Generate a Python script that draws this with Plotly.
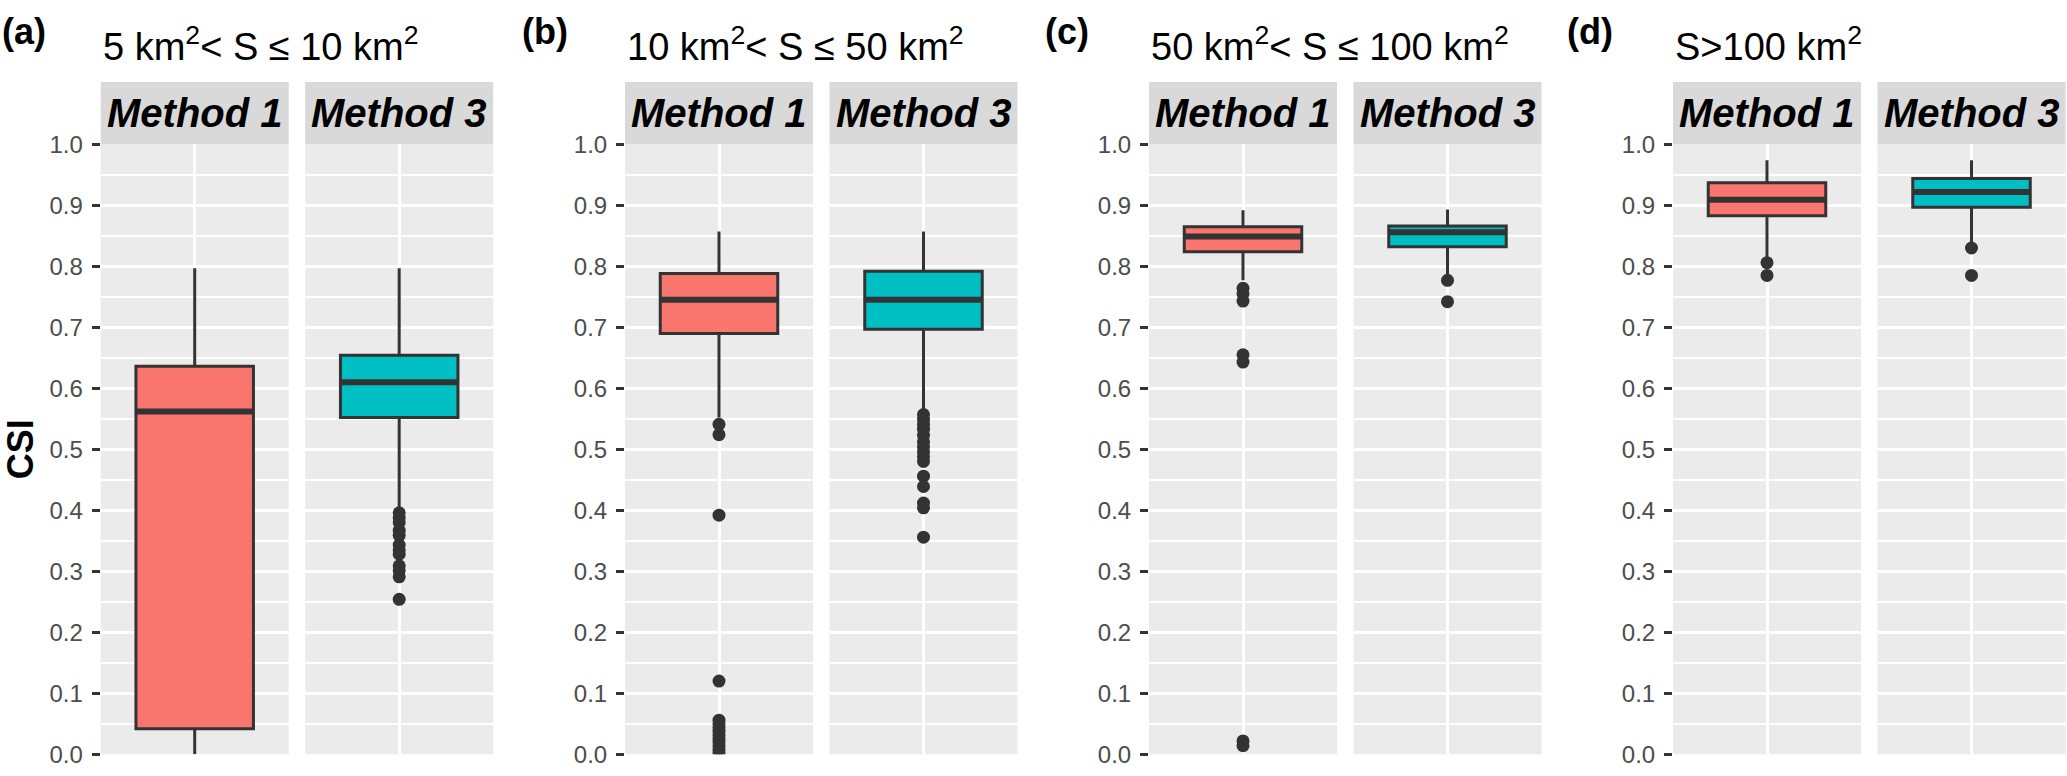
import plotly.graph_objects as go

# -----------------------------
# Data
# -----------------------------
panel_labels = ['(a)', '(b)', '(c)', '(d)']
size_classes = [
    '5 km<sup>2</sup>< S ≤ 10 km<sup>2</sup>',
    '10 km<sup>2</sup>< S ≤ 50 km<sup>2</sup>',
    '50 km<sup>2</sup>< S ≤ 100 km<sup>2</sup>',
    'S>100 km<sup>2</sup>',
]
methods = ['Method 1', 'Method 3']

# Method 1 box statistics, one value per size class
m1_low = [0.000, 0.552, 0.777, 0.815]
m1_q1 = [0.042, 0.690, 0.824, 0.883]
m1_median = [0.562, 0.745, 0.849, 0.909]
m1_q3 = [0.636, 0.788, 0.865, 0.937]
m1_high = [0.797, 0.857, 0.892, 0.974]
m1_outliers = [
    [],
    [0.541, 0.524, 0.392, 0.120, 0.056, 0.050, 0.044, 0.038, 0.032,
     0.026, 0.020, 0.014, 0.008, 0.003],
    [0.764, 0.755, 0.743, 0.655, 0.643, 0.022, 0.014],
    [0.806, 0.785],
]

# Method 3 box statistics
m3_low = [0.405, 0.565, 0.786, 0.839]
m3_q1 = [0.552, 0.697, 0.832, 0.897]
m3_median = [0.610, 0.745, 0.856, 0.922]
m3_q3 = [0.654, 0.792, 0.866, 0.944]
m3_high = [0.797, 0.857, 0.893, 0.974]
m3_outliers = [
    [0.396, 0.388, 0.380, 0.367, 0.359, 0.343, 0.335, 0.328, 0.309,
     0.301, 0.291, 0.254],
    [0.557, 0.549, 0.541, 0.533, 0.523, 0.512, 0.504, 0.496, 0.488,
     0.480, 0.456, 0.439, 0.412, 0.404, 0.356],
    [0.777, 0.742],
    [0.830, 0.785],
]

y_ticks = [0.0, 0.1, 0.2, 0.3, 0.4, 0.5, 0.6, 0.7, 0.8, 0.9, 1.0]

# -----------------------------
# Layout constants (pixels)
# -----------------------------
W, H = 2067, 776
GROUP_LEFT = [100.7, 625, 1149, 1673]
LABEL_LEFT = [0, 520, 1043, 1565]
PANEL_W = 188
PANEL_GAP = 16.5
PLOT_TOP, PLOT_BOTTOM = 135, 767
STRIP_TOP = 70.5
BOX_WIDTH = 0.75

FONT = 'Liberation Sans, Arial, sans-serif'
DARK = '#333333'
fills = ['#F8766D', '#00BFC4']


def px_x(p):
    return p / W


def px_y(p):
    return 1 - p / H


stats = [
    (m1_low, m1_q1, m1_median, m1_q3, m1_high, m1_outliers),
    (m3_low, m3_q1, m3_median, m3_q3, m3_high, m3_outliers),
]

fig = go.Figure()
axes = {}
shapes = []
annotations = []

for g in range(len(panel_labels)):
    for m in range(len(methods)):
        idx = g * 2 + m + 1
        xref = 'x' if idx == 1 else f'x{idx}'
        yref = 'y' if idx == 1 else f'y{idx}'
        low, q1, med, q3, high, outl = stats[m]

        fig.add_trace(go.Box(
            x=[0], q1=[q1[g]], median=[med[g]], q3=[q3[g]],
            lowerfence=[low[g]], upperfence=[high[g]],
            width=BOX_WIDTH, whiskerwidth=0,
            fillcolor=fills[m], line=dict(color=DARK, width=3),
            boxpoints=False, showlegend=False, hoverinfo='skip',
            xaxis=xref, yaxis=yref,
        ))
        # ggplot draws the median line twice as thick
        fig.add_trace(go.Scatter(
            x=[-BOX_WIDTH / 2, BOX_WIDTH / 2], y=[med[g], med[g]],
            mode='lines', line=dict(color=DARK, width=6),
            showlegend=False, hoverinfo='skip', xaxis=xref, yaxis=yref,
        ))
        if outl[g]:
            fig.add_trace(go.Scatter(
                x=[0] * len(outl[g]), y=outl[g], mode='markers',
                marker=dict(color=DARK, size=13),
                showlegend=False, hoverinfo='skip', xaxis=xref, yaxis=yref,
            ))

        x0 = GROUP_LEFT[g] + m * (PANEL_W + PANEL_GAP)
        x1 = x0 + PANEL_W
        axes['xaxis' if idx == 1 else f'xaxis{idx}'] = dict(
            domain=[px_x(x0), px_x(x1)], range=[-0.6, 0.6],
            tickvals=[0], showticklabels=False, ticks='',
            showgrid=True, gridcolor='white', gridwidth=3,
            zeroline=False, showline=False, anchor=yref,
        )
        axes['yaxis' if idx == 1 else f'yaxis{idx}'] = dict(
            domain=[px_y(PLOT_BOTTOM), px_y(PLOT_TOP)], range=[0, 1],
            tickvals=y_ticks, tickformat='.1f',
            showticklabels=(m == 0), ticks='outside' if m == 0 else '',
            ticklen=8, tickwidth=3, tickcolor=DARK, ticklabelstandoff=4,
            ticklabeloverflow='allow',
            tickfont=dict(family=FONT, size=24, color='#4D4D4D'),
            showgrid=True, gridcolor='white', gridwidth=3,
            minor=dict(dtick=0.05, tick0=0, showgrid=True,
                       gridcolor='white', gridwidth=1.5, ticks=''),
            zeroline=False, showline=False, anchor=xref,
        )

        # facet strip
        shapes.append(dict(
            type='rect', xref='paper', yref='paper',
            x0=px_x(x0), x1=px_x(x1), y0=px_y(PLOT_TOP), y1=px_y(STRIP_TOP),
            fillcolor='#D9D9D9', line=dict(width=0), layer='below',
        ))
        annotations.append(dict(
            text=f'<b><i>{methods[m]}</i></b>', xref='paper', yref='paper',
            x=px_x((x0 + x1) / 2), y=px_y((PLOT_TOP + STRIP_TOP) / 2),
            xanchor='center', yanchor='middle', showarrow=False,
            font=dict(family=FONT, size=40, color='black'),
        ))

    # panel label and size class title
    annotations.append(dict(
        text=f'<b>{panel_labels[g]}</b>', xref='paper', yref='paper',
        x=px_x(LABEL_LEFT[g]), y=px_y(18), xanchor='left', yanchor='middle',
        showarrow=False, font=dict(family=FONT, size=36, color='black'),
    ))
    annotations.append(dict(
        text=size_classes[g], xref='paper', yref='paper',
        x=px_x(GROUP_LEFT[g]), y=px_y(31), xanchor='left', yanchor='middle',
        showarrow=False, font=dict(family=FONT, size=38, color='black'),
    ))

# y axis title
annotations.append(dict(
    text='<b>CSI</b>', xref='paper', yref='paper',
    x=px_x(20), y=px_y((PLOT_TOP + PLOT_BOTTOM) / 2),
    xanchor='center', yanchor='middle', textangle=-90, showarrow=False,
    font=dict(family=FONT, size=36, color='black'),
))

fig.update_layout(
    width=W, height=H,
    margin=dict(l=0, r=0, t=0, b=0),
    paper_bgcolor='white', plot_bgcolor='#EBEBEB',
    shapes=shapes, annotations=annotations,
    **axes,
)

# the page body's default margin would push the 2067x776 figure off screen
fig.write_html('out.html', config={'displayModeBar': False},
               post_script="document.body.style.margin = '0';")
